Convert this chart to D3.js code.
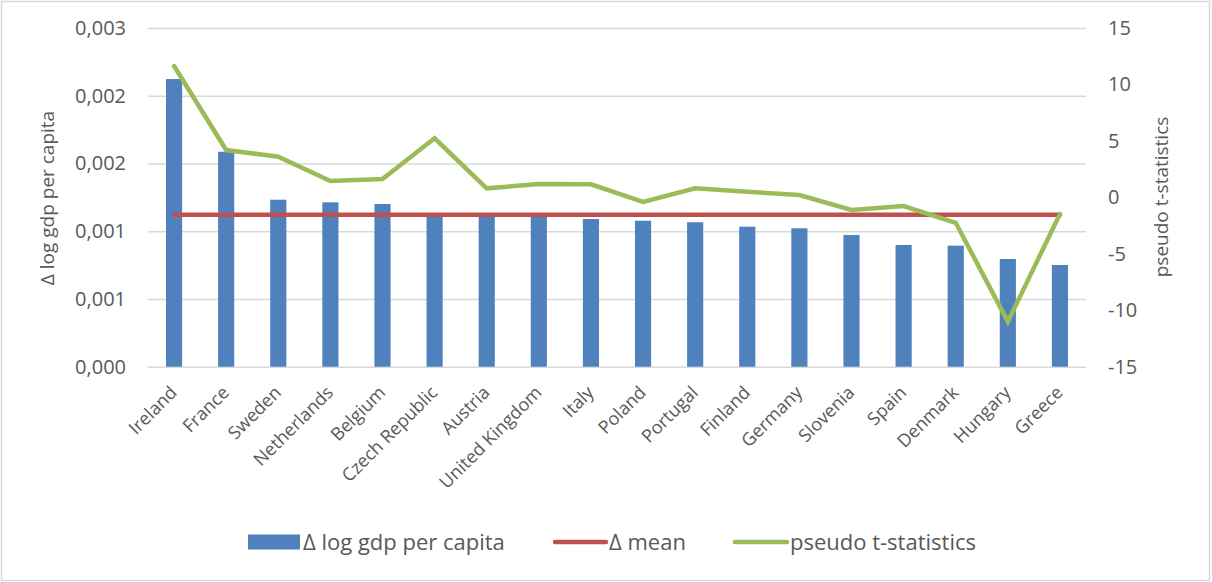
<!DOCTYPE html>
<html>
<head>
<meta charset="utf-8">
<script src="https://cdn.jsdelivr.net/npm/d3@7"></script>
<style>
  html, body { margin: 0; padding: 0; background: #fff; }
  svg text { font-family: "Open Sans", Lato, sans-serif; fill: #595959; }
</style>
</head>
<body>
<svg id="chart" width="1212" height="582"></svg>
<script>
// Countries, ordered by change in log GDP per capita
const countries = ["Ireland", "France", "Sweden", "Netherlands", "Belgium", "Czech Republic",
  "Austria", "United Kingdom", "Italy", "Poland", "Portugal", "Finland", "Germany",
  "Slovenia", "Spain", "Denmark", "Hungary", "Greece"];

// Δ log gdp per capita (bars, left axis)
const deltaLogGdp = [0.002548, 0.001904, 0.001479, 0.001456, 0.001441, 0.001344,
  0.001335, 0.001330, 0.001308, 0.001293, 0.001279, 0.001240, 0.001226,
  0.001166, 0.001078, 0.001072, 0.000954, 0.000901];

// Δ mean (constant reference line, left axis)
const deltaMean = 0.001345;

// pseudo t-statistics (line, right axis)
const pseudoT = [11.63, 4.19, 3.6, 1.45, 1.63, 5.23, 0.8, 1.18, 1.15, -0.41,
  0.8, 0.5, 0.21, -1.12, -0.77, -2.25, -11.01, -1.48];

// Axis ticks
const leftTicks = [0, 0.0006, 0.0012, 0.0018, 0.0024, 0.003];
const rightTicks = [-15, -10, -5, 0, 5, 10, 15];

const legendLabels = ["\u0394 log gdp per capita", "\u0394 mean", "pseudo t-statistics"];

const colors = { bar: "#4f81bd", mean: "#c0504d", t: "#9bbb59", grid: "#d9d9d9" };

const svg = d3.select("#chart");
const W = 1212, H = 582;
const m = { left: 148, right: 1086, top: 28, bottom: 366.7 };

// outer chart frame
svg.append("rect").attr("x", 1.5).attr("y", 1.5).attr("width", W - 4).attr("height", H - 3)
  .attr("fill", "#fff").attr("stroke", colors.grid).attr("stroke-width", 1.5);

const x = d3.scaleBand().domain(countries).range([m.left, m.right]).paddingInner(0.69).paddingOuter(0.345);
const xc = d => x(d) + x.bandwidth() / 2;
const yL = d3.scaleLinear().domain([0, 0.003]).range([m.bottom, m.top]);
const yR = d3.scaleLinear().domain([-15, 15]).range([m.bottom, m.top]);

// left axis with gridlines
const fmt = v => d3.format(".3f")(v).replace(".", ",");
const leftAxis = d3.axisLeft(yL).tickValues(leftTicks).tickFormat(fmt)
  .tickSize(-(m.right - m.left)).tickPadding(22);
const gL = svg.append("g").attr("transform", `translate(${m.left},0)`).call(leftAxis);
gL.select(".domain").remove();
gL.selectAll(".tick line").attr("stroke", colors.grid).attr("stroke-width", 1.5);
gL.selectAll(".tick text").attr("font-size", 20).attr("fill", "#595959");

// right axis
const rightAxis = d3.axisRight(yR).tickValues(rightTicks).tickSize(0).tickPadding(22)
  .tickFormat(d => String(d));
const gR = svg.append("g").attr("transform", `translate(${m.right},0)`).call(rightAxis);
gR.select(".domain").remove();
gR.selectAll(".tick text").attr("font-size", 20).attr("fill", "#595959");

// bars
svg.append("g").selectAll("rect").data(countries).join("rect")
  .attr("x", d => x(d))
  .attr("width", x.bandwidth())
  .attr("y", (d, i) => yL(deltaLogGdp[i]))
  .attr("height", (d, i) => yL(0) - yL(deltaLogGdp[i]))
  .attr("fill", colors.bar);

// mean line
svg.append("path")
  .datum(countries)
  .attr("fill", "none").attr("stroke", colors.mean).attr("stroke-width", 4.5)
  .attr("stroke-linecap", "round")
  .attr("d", d3.line().x(d => xc(d)).y(() => yL(deltaMean)));

// pseudo t-statistics line
svg.append("path")
  .datum(countries)
  .attr("fill", "none").attr("stroke", colors.t).attr("stroke-width", 4.5)
  .attr("stroke-linejoin", "miter").attr("stroke-linecap", "round")
  .attr("d", d3.line().x(d => xc(d)).y((d, i) => yR(pseudoT[i])));

// category labels, slanted at 45° and ending under each bar
const labelG = svg.append("g").selectAll("g").data(countries).join("g")
  .attr("transform", d => `translate(${xc(d) + 4},${m.bottom + 27})`);
labelG.append("text")
  .attr("transform", "rotate(-45)")
  .attr("text-anchor", "end")
  .attr("font-size", 18)
  .text(d => d);

// axis titles
svg.append("text").attr("transform", `translate(47,198) rotate(-90)`)
  .attr("text-anchor", "middle").attr("dy", "0.35em").attr("font-size", 19).text("\u0394 log gdp per capita");
svg.append("text").attr("transform", `translate(1161,197) rotate(-90)`)
  .attr("text-anchor", "middle").attr("dy", "0.35em").attr("font-size", 19).text("pseudo t-statistics");

// legend
const lg = svg.append("g").attr("transform", "translate(0,542)");
lg.append("rect").attr("x", 248).attr("y", -7.5).attr("width", 52).attr("height", 15).attr("fill", colors.bar);
lg.append("text").attr("x", 303).attr("y", 0).attr("dy", "0.35em").attr("font-size", 22).text(legendLabels[0]);
lg.append("line").attr("x1", 555).attr("x2", 606).attr("y1", 0).attr("y2", 0)
  .attr("stroke", colors.mean).attr("stroke-width", 4.5).attr("stroke-linecap", "round");
lg.append("text").attr("x", 609).attr("y", 0).attr("dy", "0.35em").attr("font-size", 22).text(legendLabels[1]);
lg.append("line").attr("x1", 735).attr("x2", 787).attr("y1", 0).attr("y2", 0)
  .attr("stroke", colors.t).attr("stroke-width", 4.5).attr("stroke-linecap", "round");
lg.append("text").attr("x", 790).attr("y", 0).attr("dy", "0.35em").attr("font-size", 22).text(legendLabels[2]);
</script>
</body>
</html>
